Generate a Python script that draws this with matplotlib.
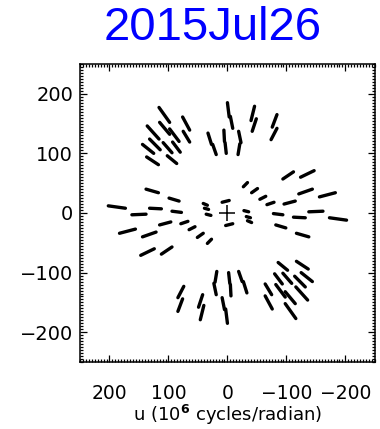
import numpy as np
import matplotlib
matplotlib.use('Agg')
import matplotlib.pyplot as plt
from matplotlib.ticker import MultipleLocator

#uv tracks, one half only: (u0, v0, u1, v1) in 10^6 cycles/radian
#the other half is the conjugate point (-u, -v)
upper_left = [
    (116, 177, 98, 152), (136, 146, 116, 124), (115, 152, 98, 132),
    (76, 161, 64, 139), (75, 137, 64, 119), (98, 141, 82, 120),
    (132, 124, 114, 106), (144, 115, 125, 100), (109, 118, 94, 101),
    (93, 119, 80, 102), (137, 94, 117, 81), (102, 96, 86, 83),
]
upper_mid = [
    (0, 185, -3, 161), (-5, 162, -9, 142),
    (33, 134, 27, 115), (25, 115, 19, 98),
    (6, 139, 5, 120), (4, 118, 2, 100),
    (-19, 137, -23, 118), (-21, 116, -18, 98),
    (-46, 179, -40, 155), (-49, 158, -42, 137),
    (-84, 165, -76, 144), (-84, 142, -74, 123),
]
band = [
    (-94, 57, -112, 69), (-124, 60, -147, 71), (-121, 32, -144, 40),
    (-156, 27, -183, 34), (-96, 15, -115, 20), (-138, 2, -162, 3),
    (-78, -1, -94, -3), (-112, -7, -132, -8), (-173, -8, -202, -12),
    (-82, -20, -99, -25), (-117, -34, -138, -40),
]
chain = [
    (-27, 44, -34, 51), (-41, 34, -51, 41), (-55, 23, -65, 28), (-67, 14, -79, 18),
]
centre = [
    (9, 18, -3, 21), (-28, 4, -36, 2), (-32, -6, -39, -8), (-34, -13, -41, -16),
]

ticks = [200, 100, 0, -100, -200]
title = '2015Jul26'

fig = plt.figure(figsize=(3.8, 4.29), dpi=100)
ax = fig.add_axes([0.2105, 0.156, 0.776, 0.695])

segs = np.array(upper_left + upper_mid + band + chain + centre, dtype=float)
for u0, v0, u1, v1 in segs:
    ax.plot([u0, u1], [v0, v1], color='black', lw=2.4, solid_capstyle='round')
    ax.plot([-u0, -u1], [-v0, -v1], color='black', lw=2.4, solid_capstyle='round')

#origin marker
ax.plot([0], [0], marker='+', color='black', markersize=11, markeredgewidth=1.1)

ax.set_xlim(250, -250)
ax.set_ylim(-250, 250)
ax.set_xticks(ticks)
ax.set_yticks(ticks)
ax.xaxis.set_minor_locator(MultipleLocator(5))
ax.yaxis.set_minor_locator(MultipleLocator(5))
ax.tick_params(which='both', direction='in', top=True, right=True, width=0.9)
ax.tick_params(which='major', length=5)
ax.tick_params(which='minor', length=2.5)
ax.tick_params(axis='x', which='major', pad=16, labelsize=13.5)
ax.tick_params(axis='y', which='major', pad=5, labelsize=14)
for sp in ax.spines.values():
    sp.set_linewidth(1.1)

ax.set_xlabel(r'u (10$^{\mathbf{6}}$ cycles/radian)', fontsize=13, labelpad=0)

fig.text(213 / 380, 1 - 27.5 / 429, title, ha='center', va='center',
         fontsize=34, color='#0000ff', family='Liberation Sans')

fig.savefig('out.png', dpi=100)
